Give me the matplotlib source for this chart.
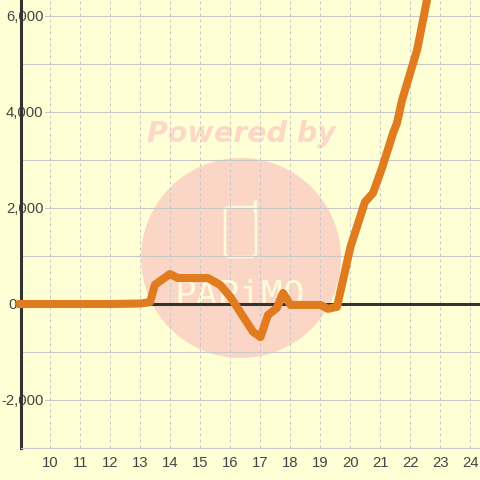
#!/usr/bin/env python3
import matplotlib
matplotlib.use("Agg")
import matplotlib.pyplot as plt
from matplotlib.patches import Circle, FancyBboxPatch

BG = "#FFFFD5"
CREAM = "#FFFBD8"
hours = [9, 10, 11, 12, 13, 13.32, 13.48, 13.98, 14.25, 15.25, 15.65, 16, 16.75, 17,
         17.25, 17.55, 17.75, 18, 19, 19.25, 19.55, 20, 20.32, 20.48, 20.75, 21.05, 21.42,
         21.55, 21.72, 22.22, 22.55, 22.75]
values = [0, 0, 0, 0, 10, 40, 400, 625, 540, 540, 400, 145, -580, -690,
          -230, -80, 230, -20, -20, -100, -60, 1190, 1810, 2125, 2310, 2830, 3560,
          3770, 4250, 5290, 6333, 6950]
x_ticks = list(range(10, 25))
y_ticks = [-2000, 0, 2000, 4000, 6000]
y_minor = [-3000, -1000, 1000, 3000, 5000]
watermark_top = "Powered by"
watermark_name = "PAPiMO"

plt.rcParams["font.family"] = ["Liberation Sans", "DejaVu Sans"]
fig = plt.figure(figsize=(4.8, 4.8), dpi=100, facecolor=BG)

# watermark sits under the chart, in pixel coords
wm = fig.add_axes([0, 0, 1, 1], zorder=0)
wm.set_xlim(0, 480)
wm.set_ylim(480, 0)
wm.axis("off")
wm.add_patch(Circle((241, 258), 100, fc="#FBD6C6", ec="none"))
wm.add_patch(FancyBboxPatch((225, 207), 31, 50, boxstyle="round,pad=0,rounding_size=5",
                            fc="none", ec=CREAM, lw=1.9))
wm.plot([254.5, 254.5], [201, 212], color=CREAM, lw=2.4, solid_capstyle="round")
wm.text(241, 134, watermark_top, ha="center", va="center", fontsize=20.5, fontweight="bold",
        fontstyle="italic", family="DejaVu Sans", color="#FDD7C7")
wm.text(240, 305, watermark_name, ha="center", va="baseline", fontsize=26, color=CREAM,
        family="DejaVu Sans Mono")

ax = fig.add_axes([20.5 / 480, 32 / 480, 459.5 / 480, 448 / 480], zorder=1)
ax.patch.set_alpha(0)
ax.set_xlim(9, 24.317)
ax.set_ylim(-3000, 6333)

for s in ["top", "right"]:
    ax.spines[s].set_visible(False)
ax.spines["left"].set_linewidth(2.2)
ax.spines["left"].set_color("#333333")
ax.spines["bottom"].set_linewidth(0.8)
ax.spines["bottom"].set_color("#C8C8C8")

ax.set_xticks(x_ticks)
ax.set_yticks(y_ticks)
ax.set_yticks(y_minor, minor=True)
ax.set_yticklabels([f"{v:,}" for v in y_ticks])
ax.tick_params(axis="both", which="both", length=0)
ax.tick_params(axis="x", labelsize=10.7, labelcolor="#444444", pad=5.5)
ax.tick_params(axis="y", labelsize=10.7, labelcolor="#444444", pad=-16.5)
for v, tick, lab in zip(y_ticks, ax.yaxis.get_major_ticks(), ax.get_yticklabels()):
    lab.set_ha("right")
    lab.set_zorder(6)
    if v == 0:
        tick.set_pad(3)   # the zero label sits left of the axis, no backing box
    else:
        lab.set_bbox(dict(fc=BG, ec="none", pad=1))

ax.grid(axis="y", which="both", color="#C8C8C8", lw=0.8)
ax.grid(axis="x", color="#C8C8C8", lw=0.72, ls=(0, (3, 3)))
ax.set_axisbelow(True)

ax.axhline(0, color="#333333", lw=2.2, zorder=2)
ax.plot(hours, values, color="#E07B20", lw=5.8, solid_joinstyle="round",
        solid_capstyle="projecting", clip_on=False, zorder=3)

fig.savefig("out.png", dpi=100, facecolor=BG)
